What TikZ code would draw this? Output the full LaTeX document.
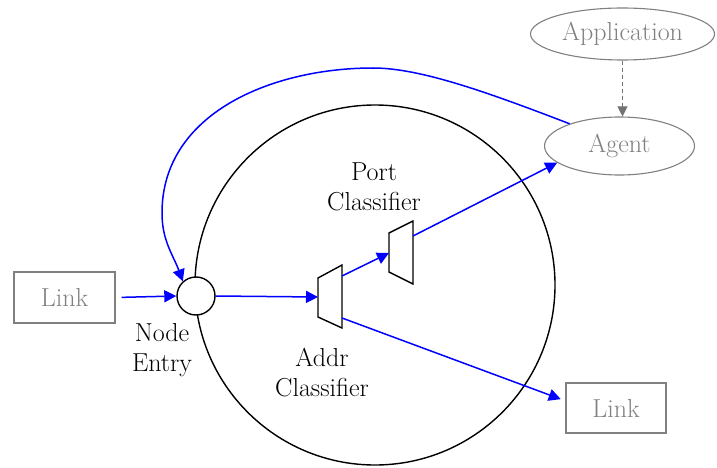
\documentclass[tikz,border=0pt]{standalone}
\usetikzlibrary{arrows.meta,shapes.geometric}

\begin{document}
\begin{tikzpicture}[x=1pt,y=-1pt,
  txt/.style={font=\fontsize{26}{30}\selectfont, align=center, inner sep=0pt},
  grayshape/.style={draw=black!50, line width=1.1pt, text=black!50,
                    font=\fontsize{26}{30}\selectfont, inner sep=0pt},
  flow/.style={draw=blue, line width=1.5pt,
               -{Triangle[length=12pt,width=12pt]}},
  ctrl/.style={draw=black!55, line width=1.1pt, dash pattern=on 4pt off 3pt,
               -{Triangle[length=10pt,width=10pt]}},
  classifier/.style={draw=black, line width=1.4pt, line join=miter}]
\useasboundingbox (0,0) rectangle (717,468);

% node body and its entry point
\node[circle, draw, line width=1.4pt, minimum size=360, inner sep=0pt] (body) at (375,285) {};
\node[circle, draw, fill=white, line width=1.4pt, minimum size=38, inner sep=0pt] (entry) at (196,296) {};

% address classifier
\coordinate (a1) at (318,278);
\coordinate (a2) at (342,265);
\coordinate (a3) at (342,328);
\coordinate (a4) at (318,317);
\draw[classifier] (a1) -- (a2) -- (a3) -- (a4) -- cycle;
\coordinate (addrIn) at (318,297);
\coordinate (addrOutUp) at (342,276);
\coordinate (addrOutDown) at (342,318);

% port classifier
\coordinate (p1) at (389,233);
\coordinate (p2) at (413,221);
\coordinate (p3) at (413,284);
\coordinate (p4) at (389,272);
\draw[classifier] (p1) -- (p2) -- (p3) -- (p4) -- cycle;
\coordinate (portIn) at (389,253);
\coordinate (portOut) at (413,236);

% external objects
\node[grayshape, rectangle, minimum width=101, minimum height=51] (linkL) at (64.5,297.5) {Link};
\node[grayshape, rectangle, minimum width=100, minimum height=50] (linkR) at (616,408) {Link};
\node[grayshape, ellipse, minimum width=184, minimum height=52] (app) at (622.5,34) {Application};
\node[grayshape, ellipse, minimum width=150, minimum height=58] (agent) at (619.5,146) {Agent};

% labels
\node[txt] (lblPort) at (374,187) {Port\\Classifier};
\node[txt] (lblEntry) at (162,350) {Node\\Entry};
\node[txt] (lblAddr) at (322,373) {Addr\\Classifier};

% packet paths
\draw[flow, shorten <=6pt] (linkL.east) -- (entry.west);
\draw[flow] (entry.east) -- (addrIn);
\draw[flow] (addrOutUp) -- (portIn);
\draw[flow] (portOut) -- (agent.195);
\draw[flow, shorten >=5pt] (addrOutDown) -- (linkR.172);

% agent feeds back into the node entry
\coordinate (loopTop) at (373,68);
\coordinate (loopLeft) at (162,213);
\draw[flow] (agent.156) .. controls (487,92) and (420,68) .. (loopTop)
  to[out=180,in=90] (loopLeft) to[out=-90,in=110] (entry.132);

% application controls the agent
\draw[ctrl] (app.south) -- (app.south |- agent.north);
\end{tikzpicture}
\end{document}
